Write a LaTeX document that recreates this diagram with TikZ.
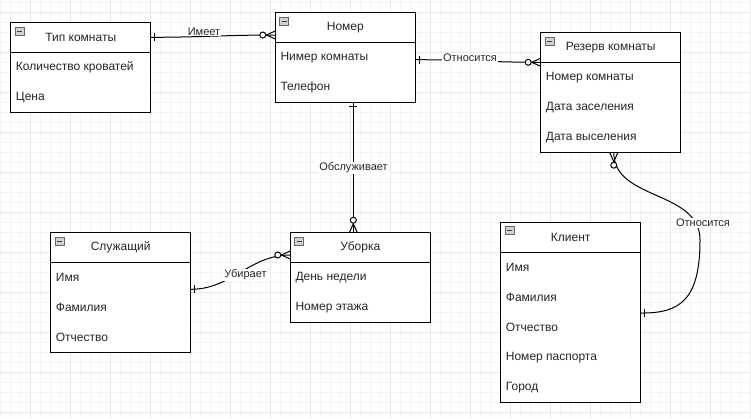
\documentclass[tikz,border=0pt]{standalone}
\usepackage{fontspec}
\setmainfont{Liberation Sans}
\newcommand\ertbl[6]{%
  \node[tbl,anchor=north west,minimum height={(#4+1)*30pt}] (#1) at (#2,#3) {};
  \draw[tbl line] ([yshift=-30pt]#1.north west) -- ([yshift=-30pt]#1.north east);
  \node[icon] (#1-i) at ([xshift=8.8pt,yshift=-8.3pt]#1.north west) {};
  \draw[icon minus] ([xshift=-2.6pt]#1-i.center) -- ([xshift=2.6pt]#1-i.center);
  \node[hdr] (#1-h) at ([yshift=-15pt]#1.north) {#5};
  \foreach \t [count=\i] in {#6}
    \node[row] (#1-r\i) at ([xshift=5pt,yshift={-15pt-30pt*\i}]#1.north west) {\t};
}
\begin{document}
\begin{tikzpicture}[x=1pt,y=-1pt,
  tbl/.style={draw=black,line width=1pt,fill=white,minimum width=140pt,inner sep=0pt,outer sep=0pt},
  tbl line/.style={line width=1pt},
  hdr/.style={font=\fontsize{12}{14}\selectfont,inner sep=0pt,text=black!85},
  row/.style={font=\fontsize{12}{14}\selectfont,anchor=west,inner sep=0pt,text=black!85},
  icon/.style={draw=gray!80!black,fill=gray!35,minimum width=9pt,minimum height=8pt,inner sep=0pt,line width=0.6pt},
  icon minus/.style={line width=0.9pt,black!75},
  lbl/.style={font=\fontsize{11}{13}\selectfont,fill=white,inner sep=1pt,text=black!85},
  conn/.style={line width=1pt},
  gridminor/.style={gray!9,line width=0.6pt},
  gridmajor/.style={gray!18,line width=0.6pt},
  zmany/.pic={\draw[conn] (-9pt,0pt) -- (0pt,4pt) (-9pt,0pt) -- (0pt,-4pt);
              \draw[conn,fill=white] (-12.5pt,0pt) circle (3pt);},
  onebar/.pic={\draw[conn] (-4pt,-4pt) -- (-4pt,4pt);}
]
\useasboundingbox (0,0) rectangle (751,418);
\fill[white] (0,0) rectangle (751,418);
% grid
\foreach \x in {0.7,10.7,...,750.7} \draw[gridminor] (\x,0) -- (\x,418);
\foreach \y in {2.7,12.7,...,417.7} \draw[gridminor] (0,\y) -- (751,\y);
\foreach \x in {30.7,70.7,...,750.7} \draw[gridmajor] (\x,0) -- (\x,418);
\foreach \y in {12.7,52.7,...,417.7} \draw[gridmajor] (0,\y) -- (751,\y);

% tables
\ertbl{tip}{10.7}{22.7}{2}{Тип комнаты}{Количество кроватей,Цена}
\ertbl{nom}{275.3}{12.7}{2}{Номер}{Нимер комнаты,Телефон}
\ertbl{rez}{540.7}{32.7}{3}{Резерв комнаты}{Номер комнаты,Дата заселения,Дата выселения}
\ertbl{slu}{50.7}{232.7}{3}{Служащий}{Имя,Фамилия,Отчество}
\ertbl{ubo}{290.3}{232.7}{2}{Уборка}{День недели,Номер этажа}
\ertbl{kli}{500.7}{222.3}{5}{Клиент}{Имя,Фамилия,Отчество,Номер паспорта,Город}

% connector end points
\coordinate (p1a) at ([yshift=-14.6pt]tip.north east);
\coordinate (p1b) at ([yshift=-22.3pt]nom.north west);
\coordinate (p2a) at ([yshift=-47pt]nom.north east);
\coordinate (p2b) at ([yshift=-29.6pt]rez.north west);
\coordinate (p3a) at ([xshift=8pt]nom.south);
\coordinate (p3b) at (p3a |- ubo.north);
\coordinate (p4a) at ([yshift=-56.6pt]slu.north east);
\coordinate (p4b) at ([yshift=-22.3pt]ubo.north west);
\coordinate (p5a) at ([xshift=3.1pt]rez.south);
\coordinate (p5b) at ([yshift=-90.7pt]kli.north east);
\coordinate (p5m) at (700,240);

\draw[conn] (p1a) to[out=0,in=180] (p1b);
\draw[conn] (p2a) to[out=0,in=180] (p2b);
\draw[conn] (p3a) -- (p3b);
\draw[conn] (p4a) to[out=0,in=180] (p4b);
\draw[conn] (p5a) .. controls +(0,48) and (700,190) .. (p5m)
                  .. controls (700,300) and (680,313.4) .. (p5b);

% labels
\node[lbl] (l1) at (204,31.5) {Имеет};
\node[lbl] (l2) at (470,58) {Относится};
\node[lbl] (l3) at (353.5,168) {Обслуживает};
\node[lbl] (l4) at (245.5,275) {Убирает};
\node[lbl] (l5) at (703,223) {Относится};

% end markers
\pic[rotate=180] at (p1a) {onebar};
\pic at (p1b) {zmany};
\pic[rotate=180] at (p2a) {onebar};
\pic at (p2b) {zmany};
\pic[rotate=90] at (p3a) {onebar};
\pic[rotate=-90] at (p3b) {zmany};
\pic[rotate=180] at (p4a) {onebar};
\pic at (p4b) {zmany};
\pic[rotate=90] at (p5a) {zmany};
\pic[rotate=180] at (p5b) {onebar};
\end{tikzpicture}
\end{document}
